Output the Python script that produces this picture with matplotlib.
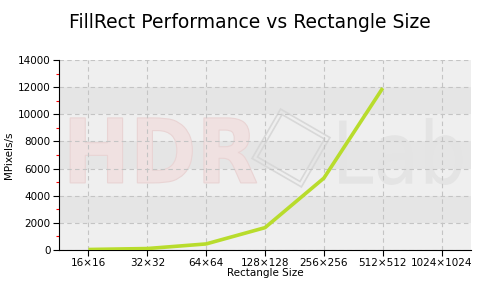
import numpy as np
import matplotlib.pyplot as plt
import matplotlib.patches as mpatches
import matplotlib.transforms as mtransforms
from matplotlib.textpath import TextPath
from matplotlib.font_manager import FontProperties
from matplotlib.ticker import MultipleLocator

## Data #######################################################
sizes  = ['16×16', '32×32', '64×64', '128×128', '256×256', '512×512', '1024×1024']
mpix   = [30, 100, 440, 1640, 5290, 11930, np.nan]  # MPixels/s, 1024 not measured
yBands = [2000, 6000, 10000]  # lower edge of darker bands

fig = plt.figure(figsize=(5, 3), dpi=100)
ax  = fig.add_axes([0.118, 0.167, 0.824, 0.633])
ax.set_facecolor('#efefef')
for y0 in yBands:
    ax.axhspan(y0, y0 + 2000, color='#e5e5e5', zorder=0.1, lw=0)

x = np.arange(len(sizes))
ax.set_xlim(-0.5, len(sizes) - 0.5)
ax.set_ylim(0, 14000)

# watermark: text stretched into a box given in data coords
def mark(txt, x0, x1, y0, y1, fc, ec, bold):
    tp = TextPath((0, 0), txt, size=1, prop=FontProperties(family='DejaVu Sans', weight='bold' if bold else 'normal'))
    ext = tp.get_extents()
    tr = mtransforms.Affine2D().translate(-ext.x0, -ext.y0).scale((x1 - x0) / ext.width, (y1 - y0) / ext.height).translate(x0, y0)
    ax.add_patch(mpatches.PathPatch(tr.transform_path(tp), fc=fc, ec=ec, lw=0.8, zorder=0.3))

mark('HDR', -0.31, 2.86, 4940, 9730, '#f0e1e1', '#e9d4d4', True)
mark('Lab', 4.26, 6.35, 4790, 9730, '#e4e4e4', 'none', False)
# logo diamond (display pixels)
for side in [57, 49]:
    rot = mtransforms.Affine2D().rotate_deg_around(291, 152, 60)
    ax.add_patch(mpatches.Rectangle((291 - side / 2, 152 - side / 2), side, side, fill=False,
                                    ec='#d8d8d8', lw=1.2, zorder=0.3,
                                    transform=rot + mtransforms.IdentityTransform()))

ax.plot(x, mpix, color='#b8dc2c', lw=2.6, solid_capstyle='butt', zorder=3)

ax.set_xticks(x)
ax.set_xticklabels(sizes)
ax.yaxis.set_major_locator(MultipleLocator(2000))
ax.yaxis.set_minor_locator(MultipleLocator(1000))
ax.tick_params(axis='both', labelsize=7.5, length=4, width=0.8, pad=2)
ax.tick_params(axis='y', which='minor', length=2, color='red', width=0.8)
ax.grid(True, which='major', ls=(0, (4, 3)), color='#c4c4c4', lw=0.8)
ax.set_axisbelow(True)
for s in ['top', 'right']:
    ax.spines[s].set_visible(False)
ax.spines['left'].set_linewidth(0.8)
ax.spines['bottom'].set_linewidth(0.8)

ax.set_xlabel('Rectangle Size', fontsize=7.5, labelpad=0)
ax.set_ylabel('MPixels/s', fontsize=7.5, labelpad=3)
fig.suptitle('FillRect Performance vs Rectangle Size', fontsize=13.5, y=0.955)

plt.savefig('out.png', dpi=100)
